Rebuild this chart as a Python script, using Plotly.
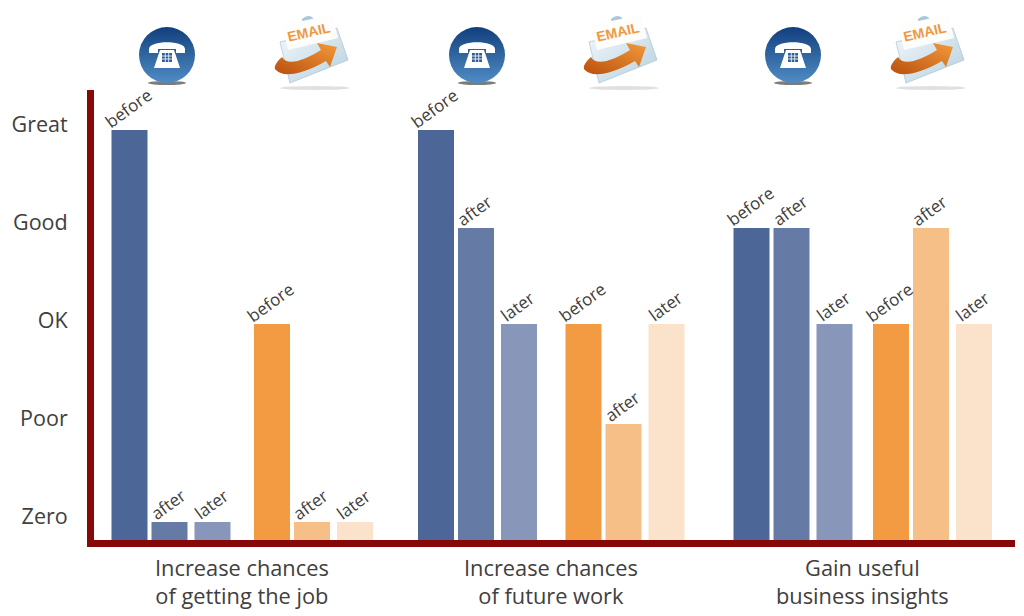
import base64
import plotly.graph_objects as go

# the page keeps an 8px body margin, so the figure is 8px smaller than the window
W, H = 1016, 608

rating_labels = ["Zero", "Poor", "OK", "Good", "Great"]
rating_values = [0, 1, 2, 3, 4]
goals = ["Increase chances<br>of getting the job", "Increase chances<br>of future work", "Gain useful<br>business insights"]
stages = ["before", "after", "later"]

phone_before = [4, 4, 3]
phone_after = [0, 3, 3]
phone_later = [0, 2.02, 2.02]
email_before = [2.02, 2.02, 2.02]
email_after = [0, 1, 3]
email_later = [0, 2.02, 2.02]

phone_colors = ["#4d6698", "#667aa6", "#8896ba"]
email_colors = ["#f29b43", "#f6bf88", "#fbe3cb"]
INK = "#404040"
RED = "#860808"
FONT = "Open Sans"

# x axis runs in picture pixels, bars are laid out by group
goal_centers = [242, 551, 862]
phone_starts = [129.5, 436, 751.5]
email_starts = [272, 583.5, 891]
phone_icons = [167, 477, 793]
email_icons = [274, 583, 890]
stage_offsets = [0, 40, 83]
BAR_W = 36

LEFT, RIGHT, TOP, BOTTOM = 94, 1015, 90, 540

# y axis: 98px per rating, Zero bar top at y=522
PX = 98.0
Y_LOW = (522 - BOTTOM) / PX
Y_HIGH = (522 - TOP) / PX


def px(x, y):
    return (x - LEFT) / (RIGHT - LEFT), (BOTTOM - y) / (BOTTOM - TOP)


def svg_uri(svg):
    return "data:image/svg+xml;base64," + base64.b64encode(svg.encode()).decode()


phone_svg = """<svg xmlns="http://www.w3.org/2000/svg" viewBox="0 0 60 64" width="60" height="64">
<defs><linearGradient id="g" x1="0" y1="0" x2="0" y2="1">
<stop offset="0" stop-color="#123f7d"/><stop offset="1" stop-color="#4f8cc4"/></linearGradient></defs>
<ellipse cx="30" cy="58" rx="19" ry="2" fill="#444" opacity="0.7"/>
<circle cx="30" cy="30" r="28" fill="url(#g)"/>
<path d="M12 24 C12 15 48 15 48 24 L48 28 L39 28 L39 24 L21 24 L21 28 L12 28 Z" fill="#fff"/>
<path d="M23 25 L37 25 L43 43 L17 43 Z" fill="#fff"/>
<rect x="25" y="28" width="10" height="9" fill="#2d5f9c"/>
<g stroke="#fff" stroke-width="0.8"><path d="M28.3 28V37M31.7 28V37M25 31H35M25 34H35"/></g>
</svg>"""

email_svg = """<svg xmlns="http://www.w3.org/2000/svg" viewBox="0 0 78 78" width="78" height="78">
<defs><linearGradient id="a" x1="0" y1="1" x2="1" y2="0">
<stop offset="0" stop-color="#b9500f"/><stop offset="1" stop-color="#f39a3a"/></linearGradient>
<linearGradient id="e" x1="0" y1="0" x2="1" y2="1">
<stop offset="0" stop-color="#f4f8fb"/><stop offset="1" stop-color="#b5d0df"/></linearGradient></defs>
<ellipse cx="41" cy="74" rx="35" ry="2" fill="#ccc" opacity="0.6"/>
<path d="M6 28 L63 14 L74 46 L16 69 Z" fill="url(#e)" stroke="#a9c4d2" stroke-width="0.7"/>
<path d="M28 5 Q33 0 38 3 L42 8 L28 8 Z" fill="#a9c9da"/>
<path d="M8 11 L58 1 L64 24 L14 36 Z" fill="#fdfdfb"/>
<path d="M8 43 C2 48 -1 54 2 56 C8 63 26 62 52 47 L56 53 L63 33 L43 29 L47 36 C30 46 14 53 8 43 Z" fill="url(#a)"/>
</svg>"""

fig = go.Figure()

groups = [
    (phone_starts, [phone_before, phone_after, phone_later], phone_colors),
    (email_starts, [email_before, email_after, email_later], email_colors),
]
for starts, series, colors in groups:
    for i, stage in enumerate(stages):
        xs = [s + stage_offsets[i] for s in starts]
        fig.add_trace(
            go.Bar(
                x=xs,
                y=[v - Y_LOW for v in series[i]],
                base=Y_LOW,
                width=BAR_W,
                name=stage,
                marker=dict(color=colors[i], line=dict(width=0)),
                showlegend=False,
                hoverinfo="skip",
            )
        )
        for x, v in zip(xs, series[i]):
            fig.add_annotation(
                x=x - 2,
                y=v,
                text=stage,
                textangle=-36,
                showarrow=False,
                xanchor="center",
                yanchor="middle",
                yshift=22 if stage == "before" else 18,
                font=dict(family=FONT, size=17, color=INK),
            )

for x, goal in zip(goal_centers, goals):
    fx, fy = px(x, 581)
    fig.add_annotation(
        x=fx,
        y=fy,
        xref="paper",
        yref="paper",
        xanchor="center",
        yanchor="middle",
        text=goal,
        showarrow=False,
        align="center",
        font=dict(family=FONT, size=21.8, color=INK),
    )

plot_w, plot_h = RIGHT - LEFT, BOTTOM - TOP
images = []
for x in phone_icons:
    fx, fy = px(x, 25)
    images.append(dict(source=svg_uri(phone_svg), xref="paper", yref="paper", x=fx, y=fy,
                       sizex=60 / plot_w, sizey=64 / plot_h, xanchor="center", yanchor="top",
                       sizing="stretch", layer="above"))
for x in email_icons:
    fx, fy = px(x, 14)
    images.append(dict(source=svg_uri(email_svg), xref="paper", yref="paper", x=fx, y=fy,
                       sizex=78 / plot_w, sizey=78 / plot_h, xanchor="left", yanchor="top",
                       sizing="stretch", layer="above"))
    fx, fy = px(x + 35, 32)
    fig.add_annotation(
        x=fx,
        y=fy,
        xref="paper",
        yref="paper",
        xanchor="center",
        yanchor="middle",
        text="<b>EMAIL</b>",
        textangle=-13,
        showarrow=False,
        font=dict(family="Liberation Sans", size=14, color="#ee9a45"),
    )

fig.update_xaxes(
    range=[LEFT, RIGHT],
    showgrid=False,
    zeroline=False,
    showticklabels=False,
    ticks="",
    showline=True,
    linecolor=RED,
    linewidth=7,
)
fig.update_yaxes(
    range=[Y_LOW, Y_HIGH],
    tickmode="array",
    # labels sit a little above the bar tops
    tickvals=[v + 0.06 for v in rating_values],
    ticktext=rating_labels,
    ticks="",
    ticklabelstandoff=15,
    tickfont=dict(family=FONT, size=21.5, color=INK),
    showgrid=False,
    zeroline=False,
    showline=True,
    linecolor=RED,
    linewidth=7,
)
fig.update_layout(
    width=W,
    height=H,
    images=images,
    paper_bgcolor="white",
    plot_bgcolor="white",
    barmode="overlay",
    margin=dict(l=LEFT - 8, r=W + 8 - RIGHT, t=TOP - 8, b=H + 8 - BOTTOM, autoexpand=False),
)
fig.write_html("out.html")
